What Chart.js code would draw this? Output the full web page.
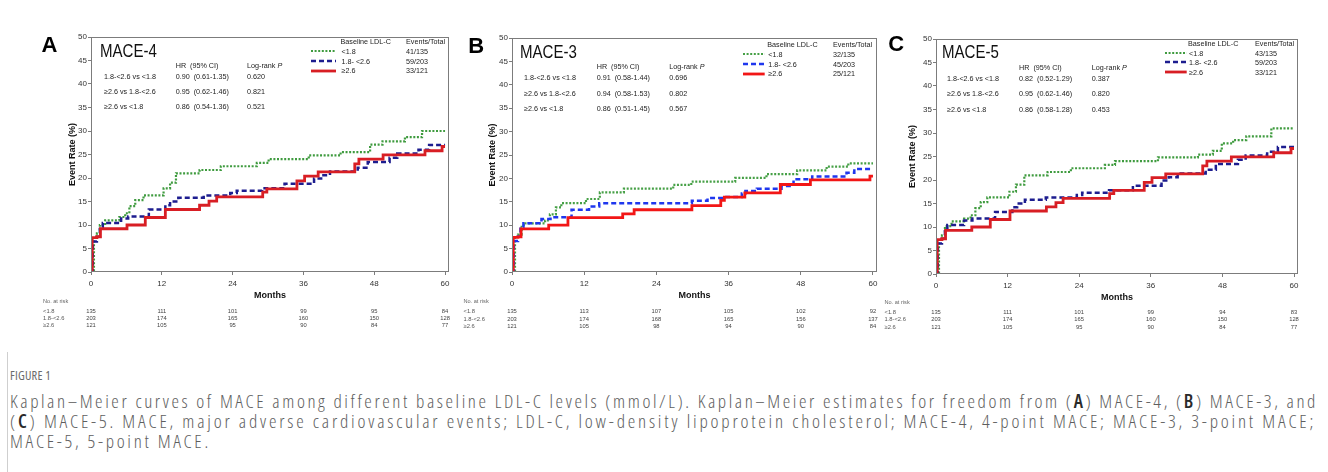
<!DOCTYPE html>
<html><head><meta charset="utf-8">
<script src="https://cdn.jsdelivr.net/npm/chart.js@4.4.1/dist/chart.umd.min.js"></script>
<style>
html,body{margin:0;padding:0;background:#fff;}
#fig{position:relative;width:1328px;height:472px;overflow:hidden;background:#fff;font-family:"Liberation Sans",Arial,sans-serif;}
.t{position:absolute;white-space:pre;line-height:1;color:#222;}
canvas{position:absolute;}
.cap{position:absolute;left:10px;white-space:nowrap;line-height:1;color:#5e5e5e;font-family:"Open Sans","Noto Sans",sans-serif;font-weight:300;font-stretch:78%;}
.cap b{color:#2a2a2a;font-weight:600;}
</style></head><body><div id="fig"></div>
<script>
// ---------- shared labels ----------
const monthTicks = [0, 12, 24, 36, 48, 60];
const legendLabels = ['<1.8', '1.8- <2.6', '\u22652.6'];
const riskLabels = ['<1.8', '1.8-<2.6', '\u22652.6'];
const comparisons = ['1.8-<2.6 vs <1.8', '\u22652.6 vs 1.8-<2.6', '\u22652.6 vs <1.8'];

// ---------- Panel A : MACE-4 ----------
const aLowT  = [0, 0.5, 1.0, 1.5, 2.4, 4.8, 5.8, 6.5, 7.5, 8.9, 12.3, 13.4, 14.4, 18.4, 22.0, 28.1, 30.1, 36.9, 42.3, 47.3, 49.4, 53.2, 56.1, 60];
const aLowR  = [0, 7.5, 8.2, 10.0, 11.0, 11.7, 12.5, 14.0, 15.3, 16.3, 17.8, 19.0, 21.0, 21.7, 22.5, 23.2, 24.0, 24.8, 25.5, 27.1, 27.8, 28.7, 30.0, 30.0];
const aMidT  = [0, 0.3, 1.0, 1.5, 2.0, 5.1, 6.3, 9.8, 12.6, 13.4, 14.8, 19.1, 23.6, 24.7, 29.0, 32.8, 37.8, 39.0, 40.5, 45.2, 46.9, 50.6, 51.9, 55.5, 57.3, 60];
const aMidR  = [0, 6.5, 7.5, 9.5, 10.4, 11.4, 11.8, 13.3, 14.2, 15.0, 15.8, 16.3, 16.8, 17.3, 17.8, 18.8, 19.9, 20.6, 21.4, 22.2, 23.4, 24.3, 25.2, 26.0, 27.0, 27.0];
const aHighT = [0, 0.2, 1.0, 1.6, 6.1, 9.2, 12.6, 18.4, 20.0, 21.3, 29.1, 29.8, 34.9, 36.2, 38.5, 44.7, 45.4, 49.5, 56.6, 59.5, 60];
const aHighR = [0, 7.3, 7.5, 9.2, 10.0, 11.6, 13.3, 14.2, 15.1, 16.0, 17.0, 17.7, 19.4, 20.4, 21.3, 23.0, 24.0, 24.9, 25.8, 26.7, 26.7];
const aEvents = ['41/135', '59/203', '33/121'];
const aHR = ['0.90  (0.61-1.35)', '0.95  (0.62-1.46)', '0.86  (0.54-1.36)'];
const aP  = ['0.620', '0.821', '0.521'];
const aRiskLow  = [135, 111, 101, 99, 95, 84];
const aRiskMid  = [203, 174, 165, 160, 150, 128];
const aRiskHigh = [121, 105, 95, 90, 84, 77];

// ---------- Panel B : MACE-3 ----------
const bLowT  = [0, 0.5, 1.0, 1.6, 2.2, 5.5, 6.3, 7.3, 8.2, 12.3, 14.6, 18.6, 26.8, 29.8, 37.1, 42.3, 47.4, 52.3, 55.9, 60];
const bLowR  = [0, 7.5, 8.0, 10.0, 10.4, 11.0, 12.3, 13.8, 14.7, 15.6, 17.0, 17.8, 18.6, 19.3, 20.1, 20.9, 21.7, 22.5, 23.2, 23.2];
const bMidT  = [0, 0.3, 1.0, 1.4, 1.9, 4.9, 6.4, 9.9, 12.8, 14.5, 29.9, 32.5, 35.2, 38.2, 38.8, 40.7, 44.8, 46.8, 49.9, 55.6, 56.9, 60];
const bMidR  = [0, 6.6, 7.6, 9.6, 10.4, 11.3, 11.7, 13.3, 14.0, 14.7, 15.2, 15.8, 16.0, 16.8, 17.3, 17.8, 18.4, 19.8, 20.4, 21.2, 22.0, 22.0];
const bHighT = [0, 0.2, 1.0, 1.5, 6.1, 9.3, 18.4, 20.3, 29.9, 34.7, 35.3, 38.7, 44.6, 49.6, 59.5, 60];
const bHighR = [0, 7.4, 7.5, 9.2, 10.0, 11.6, 12.4, 13.3, 14.2, 15.3, 16.0, 16.9, 18.7, 19.7, 20.5, 20.5];
const bEvents = ['32/135', '45/203', '25/121'];
const bHR = ['0.91  (0.58-1.44)', '0.94  (0.58-1.53)', '0.86  (0.51-1.45)'];
const bP  = ['0.696', '0.802', '0.567'];
const bRiskLow  = [135, 113, 107, 105, 102, 92];
const bRiskMid  = [203, 174, 168, 165, 156, 137];
const bRiskHigh = [121, 105, 98, 94, 90, 84];

// ---------- Panel C : MACE-5 ----------
const cLowT  = [0, 0.5, 1.0, 1.5, 2.6, 4.7, 5.8, 6.6, 7.5, 8.6, 12.3, 13.4, 14.8, 18.7, 22.6, 28.3, 30.0, 37.2, 43.9, 46.4, 47.9, 49.8, 52.0, 56.2, 60];
const cLowR  = [0, 7.5, 8.2, 10.2, 11.2, 11.8, 12.5, 14.0, 15.3, 16.3, 17.5, 19.0, 21.0, 21.7, 22.5, 23.2, 24.0, 24.8, 25.4, 26.2, 27.8, 28.5, 29.3, 31.0, 31.0];
const cMidT  = [0, 0.3, 1.0, 1.5, 1.9, 4.7, 6.1, 9.9, 12.8, 13.6, 14.9, 18.4, 23.6, 24.5, 29.0, 33.0, 37.8, 39.0, 40.5, 45.2, 46.9, 50.6, 51.9, 55.5, 57.3, 60];
const cMidR  = [0, 6.5, 7.5, 9.5, 10.4, 11.4, 11.8, 13.2, 14.2, 15.0, 15.8, 16.3, 16.8, 17.3, 17.8, 18.8, 19.9, 20.6, 21.4, 22.2, 23.4, 24.3, 25.2, 26.0, 27.0, 27.0];
const cHighT = [0, 0.2, 1.0, 1.6, 6.0, 9.1, 12.4, 18.5, 20.1, 21.3, 29.1, 29.8, 34.9, 36.2, 38.5, 44.7, 45.4, 49.5, 56.6, 59.5, 60];
const cHighR = [0, 7.3, 7.5, 9.3, 10.0, 11.6, 13.4, 14.3, 15.2, 16.1, 17.1, 17.8, 19.5, 20.5, 21.3, 23.0, 24.0, 24.9, 25.8, 26.7, 26.7];
const cEvents = ['43/135', '59/203', '33/121'];
const cHR = ['0.82  (0.52-1.29)', '0.95  (0.62-1.46)', '0.86  (0.58-1.28)'];
const cP  = ['0.387', '0.820', '0.453'];
const cRiskLow  = [135, 111, 101, 99, 94, 83];
const cRiskMid  = [203, 174, 165, 160, 150, 128];
const cRiskHigh = [121, 105, 95, 90, 84, 77];

// ---------- styles / layout (kept apart from the data) ----------
const FONT = '"Liberation Sans", Arial, sans-serif';
Chart.defaults.font.family = FONT;
const fig = document.getElementById('fig');

const panels = [
  { letter: 'A', title: 'MACE-4',
    series: [[aHighT, aHighR], [aMidT, aMidR], [aLowT, aLowR]],
    events: aEvents, hr: aHR, p: aP, risk: [aRiskLow, aRiskMid, aRiskHigh],
    colors: ['#d81e24', '#1d1d8f', '#3f9b3f'],
    L: { box: [30, 28, 425, 322], pad: [34, 9, 6, 48], yWidth: 27, yTitlePad: 3,
         letterPos: [41.5, 53], titlePos: [100, 57], colX: [104, 175.7, 247], hdrY: 68.5, rowY: [79, 94, 109.5],
         legLine: [311, 336], legLabX: 341.5, legValX: 406, legHdrY: 44.5, legRowY: [54, 63.7, 73.3],
         riskX: 43, riskHdrY: 304, riskRowY: [314, 321.2, 328.4] } },
  { letter: 'B', title: 'MACE-3',
    series: [[bHighT, bHighR], [bMidT, bMidR], [bLowT, bLowR]],
    events: bEvents, hr: bHR, p: bP, risk: [bRiskLow, bRiskMid, bRiskHigh],
    colors: ['#f21616', '#1f37ee', '#46a046'],
    L: { box: [455, 28, 430, 322], pad: [30, 10, 8, 48], yWidth: 27, yTitlePad: 2,
         letterPos: [468.3, 53.3], titlePos: [520, 58.3], colX: [524, 596.7, 669.3], hdrY: 69, rowY: [80, 95.7, 111],
         legLine: [743.3, 765], legLabX: 768.3, legValX: 833, legHdrY: 47, legRowY: [57, 66.7, 76.3],
         riskX: 463.5, riskHdrY: 304, riskRowY: [314, 321.5, 328.6] } },
  { letter: 'C', title: 'MACE-5',
    series: [[cHighT, cHighR], [cMidT, cMidR], [cLowT, cLowR]],
    events: cEvents, hr: cHR, p: cP, risk: [cRiskLow, cRiskMid, cRiskHigh],
    colors: ['#d81e24', '#1d1d8f', '#3f9b3f'],
    L: { box: [885, 28, 443, 322], pad: [21, 11, 30, 46], yWidth: 30, yTitlePad: 1,
         letterPos: [888.3, 51.7], titlePos: [942.3, 58.3], colX: [947, 1019, 1091.7], hdrY: 70, rowY: [80.7, 96, 111.7],
         legLine: [1165, 1186.7], legLabX: 1189, legValX: 1255, legHdrY: 45.7, legRowY: [55.7, 65, 75],
         riskX: 884.5, riskHdrY: 305, riskRowY: [315, 322.3, 329.5] } }
];
const lineStyles = [
  { width: 2.8, dash: [] },
  { width: 2.5, dash: [5, 3] },
  { width: 2.2, dash: [2, 1.6] }
];

function txt(content, x, baseY, fs, o = {}) {
  const d = document.createElement('div');
  d.className = 't';
  if (o.html) d.innerHTML = content; else d.textContent = content;
  d.style.left = x + 'px';
  d.style.top = (baseY - 0.8465 * fs) + 'px';
  d.style.fontSize = fs + 'px';
  if (o.bold) d.style.fontWeight = 'bold';
  if (o.color) d.style.color = o.color;
  if (o.center) d.style.transform = 'translateX(-50%)';
  if (o.sx) { d.style.transform = 'scaleX(' + o.sx + ')'; d.style.transformOrigin = '0 0'; }
  fig.appendChild(d);
  return d;
}

function legendLine(x1, x2, yc, color, st) {
  const ns = 'http://www.w3.org/2000/svg';
  const svg = document.createElementNS(ns, 'svg');
  svg.setAttribute('width', x2 - x1); svg.setAttribute('height', 8);
  svg.style.position = 'absolute'; svg.style.left = x1 + 'px'; svg.style.top = (yc - 4) + 'px';
  const ln = document.createElementNS(ns, 'line');
  ln.setAttribute('x1', 0); ln.setAttribute('x2', x2 - x1); ln.setAttribute('y1', 4); ln.setAttribute('y2', 4);
  ln.setAttribute('stroke', color); ln.setAttribute('stroke-width', st.width);
  if (st.dash.length) ln.setAttribute('stroke-dasharray', st.dash.join(' '));
  svg.appendChild(ln); fig.appendChild(svg);
}

const framePlugin = {
  id: 'frame',
  afterDraw(chart) {
    const { ctx, chartArea: a } = chart;
    ctx.save();
    ctx.strokeStyle = '#7c7c7c'; ctx.lineWidth = 1;
    ctx.strokeRect(Math.round(a.left) + 0.5, Math.round(a.top) + 0.5, Math.round(a.right - a.left) - 1, Math.round(a.bottom - a.top) - 1);
    ctx.restore();
  }
};

panels.forEach(P => {
  const L = P.L;
  const cv = document.createElement('canvas');
  cv.width = L.box[2]; cv.height = L.box[3];
  cv.style.left = L.box[0] + 'px'; cv.style.top = L.box[1] + 'px';
  cv.style.width = L.box[2] + 'px'; cv.style.height = L.box[3] + 'px';
  fig.appendChild(cv);

  const datasets = P.series.map((s, i) => ({
    label: legendLabels[2 - i],
    data: s[0].map((t, k) => ({ x: t, y: s[1][k] })),
    borderColor: P.colors[i], backgroundColor: P.colors[i],
    borderWidth: lineStyles[i].width, borderDash: lineStyles[i].dash,
    pointRadius: 0, stepped: 'before', fill: false, tension: 0
  }));

  const chart = new Chart(cv, {
    type: 'line',
    data: { datasets },
    plugins: [framePlugin],
    options: {
      responsive: false, animation: false, devicePixelRatio: 1,
      layout: { padding: { left: L.pad[0], top: L.pad[1], right: L.pad[2], bottom: L.pad[3] } },
      plugins: { legend: { display: false }, tooltip: { enabled: false } },
      scales: {
        x: {
          type: 'linear', min: 0, max: 60.67,
          afterBuildTicks: s => { s.ticks = monthTicks.map(v => ({ value: v })); },
          afterFit: s => { s.height = 30; },
          border: { display: false },
          grid: { drawOnChartArea: false, drawTicks: true, tickLength: 3, color: '#7c7c7c' },
          ticks: { font: { size: 8 }, color: '#333', padding: 4, maxRotation: 0, autoSkip: false },
          title: { display: true, text: 'Months', font: { size: 9, weight: 'bold' }, color: '#111', padding: { top: 0, bottom: 1 } }
        },
        y: {
          min: 0, max: 50,
          afterFit: s => { s.width = L.yWidth; },
          border: { display: false },
          grid: { drawOnChartArea: false, drawTicks: true, tickLength: 3, color: '#7c7c7c' },
          ticks: { stepSize: 5, font: { size: 8 }, color: '#333', padding: 1 },
          title: { display: true, text: 'Event Rate (%)', font: { size: 9, weight: 'bold' }, color: '#111', padding: { top: L.yTitlePad, bottom: 0 } }
        }
      }
    }
  });

  // in-plot annotations
  txt(P.letter, L.letterPos[0], L.letterPos[1], 22, { bold: true, color: '#000' });
  txt(P.title, L.titlePos[0], L.titlePos[1] + 0.5, 17.5, { color: '#111', sx: 0.86 });
  txt('HR  (95% CI)', L.colX[1], L.hdrY, 7.2, { color: '#222' });
  txt('Log-rank <i>P</i>', L.colX[2], L.hdrY, 7.2, { color: '#222', html: true });
  comparisons.forEach((c, i) => {
    txt(c, L.colX[0], L.rowY[i], 7.2, { color: '#222' });
    txt(P.hr[i], L.colX[1], L.rowY[i], 7.2, { color: '#222' });
    txt(P.p[i], L.colX[2], L.rowY[i], 7.2, { color: '#222' });
  });
  // legend
  txt('Baseline LDL-C', L.legLabX - 1, L.legHdrY, 7.2, { color: '#222' });
  txt('Events/Total', L.legValX, L.legHdrY, 7.2, { color: '#222' });
  [2, 1, 0].forEach((si, row) => {
    legendLine(L.legLine[0], L.legLine[1], L.legRowY[row] - 2.6, P.colors[si], lineStyles[si]);
    txt(legendLabels[row], L.legLabX, L.legRowY[row], 7.2, { color: '#222' });
    txt(P.events[row], L.legValX, L.legRowY[row], 7.2, { color: '#222' });
  });
  // number at risk (positioned on the chart's own x scale)
  txt('No. at risk', L.riskX, L.riskHdrY, 5.6, { color: '#666' });
  const xs = chart.scales.x;
  P.risk.forEach((row, r) => {
    txt(riskLabels[r], L.riskX, L.riskRowY[r], 5.8, { color: '#555' });
    row.forEach((n, k) => {
      const px = L.box[0] + xs.getPixelForValue(monthTicks[k]);
      txt(String(n), px, L.riskRowY[r], 5.8, { color: '#444', center: true });
    });
  });
});

// ---------- caption ----------
const capLines = [
  'Kaplan\u2013Meier curves of MACE among different baseline LDL-C levels (mmol/L). Kaplan\u2013Meier estimates for freedom from (<b>A</b>) MACE-4, (<b>B</b>) MACE-3, and',
  '(<b>C</b>) MACE-5. MACE, major adverse cardiovascular events; LDL-C, low-density lipoprotein cholesterol; MACE-4, 4-point MACE; MACE-3, 3-point MACE;',
  'MACE-5, 5-point MACE.'
];
const sep = document.createElement('div');
sep.style.cssText = 'position:absolute;left:7px;top:352px;width:1px;height:120px;background:#cfcfcf;';
fig.appendChild(sep);
const figLab = document.createElement('div');
figLab.className = 'cap';
figLab.textContent = 'FIGURE 1';
figLab.style.cssText += 'top:370px;font-size:12.5px;color:#6a6a6a;font-weight:400;letter-spacing:0.2px;';
fig.appendChild(figLab);
const capEls = capLines.map((s, i) => {
  const d = document.createElement('div');
  d.className = 'cap';
  d.innerHTML = s;
  d.style.top = (392 + i * 20) + 'px';
  d.style.fontSize = '19px';
  fig.appendChild(d);
  return d;
});
const targets = [1308, 1306];
let lsSum = 0;
capEls.slice(0, 2).forEach((d, i) => {
  const w = d.getBoundingClientRect().width;
  const n = d.textContent.length;
  const ls = (targets[i] - w) / n;
  d.style.letterSpacing = ls + 'px';
  lsSum += ls;
});
capEls[2].style.letterSpacing = (lsSum / 2) + 'px';
</script></body></html>
